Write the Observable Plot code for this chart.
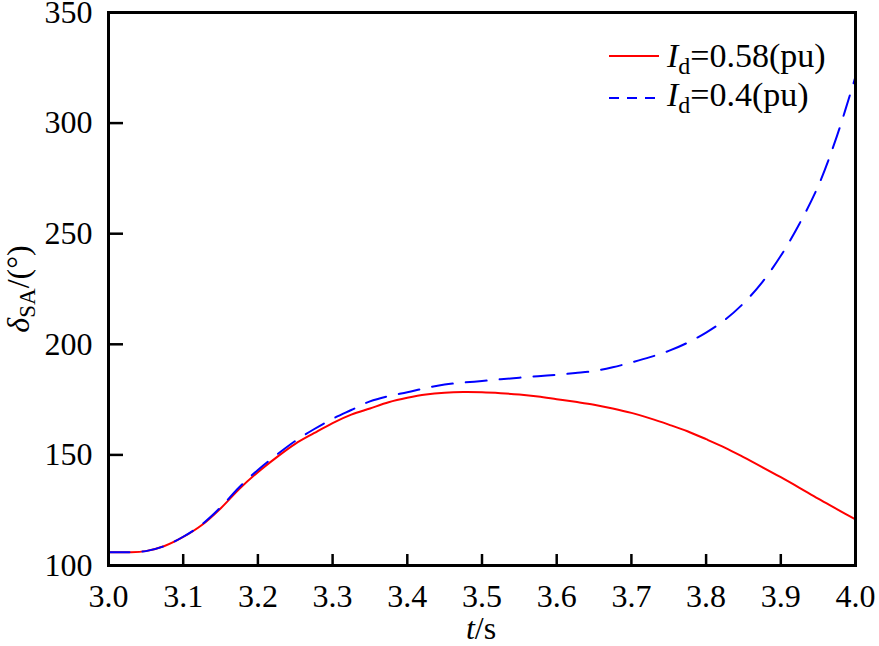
<!DOCTYPE html>
<html>
<head>
<meta charset="utf-8">
<script src="https://cdn.jsdelivr.net/npm/d3@7"></script>
<script src="https://cdn.jsdelivr.net/npm/@observablehq/plot@0.6"></script>
<style>
  html, body { margin: 0; padding: 0; background: #fff; }
  #chart { width: 879px; height: 646px; }
</style>
</head>
<body>
<div id="chart"></div>
<script>
// time (s)
const t = [3.000, 3.025, 3.050, 3.075, 3.100, 3.125, 3.150, 3.175, 3.200, 3.225,
           3.250, 3.275, 3.300, 3.325, 3.350, 3.375, 3.400, 3.425, 3.450, 3.475,
           3.500, 3.525, 3.550, 3.575, 3.600, 3.625, 3.650, 3.675, 3.700, 3.725,
           3.750, 3.775, 3.800, 3.825, 3.850, 3.875, 3.900, 3.925, 3.950, 3.975, 4.000];
// Id = 0.58 pu
const deltaId058 = [106.0, 106.0, 106.5, 108.8, 112.9, 118.3, 125.8, 134.6, 142.2, 148.9,
                    155.0, 159.8, 164.4, 168.2, 171.0, 173.8, 175.8, 177.3, 178.1, 178.4,
                    178.3, 177.9, 177.3, 176.4, 175.2, 174.0, 172.7, 171.0, 169.0, 166.5,
                    163.7, 160.7, 157.1, 153.3, 149.0, 144.5, 139.9, 135.1, 130.2, 125.5, 120.8];
// Id = 0.4 pu
const deltaId04 = [106.0, 106.0, 106.5, 108.8, 113.0, 118.6, 126.3, 135.4, 143.2, 150.0,
                   156.3, 161.6, 166.3, 170.3, 174.2, 176.6, 178.3, 180.2, 181.8, 182.7,
                   183.4, 184.2, 184.9, 185.6, 186.2, 187.0, 187.9, 189.6, 191.8, 194.2,
                   197.0, 200.7, 205.3, 211.0, 218.5, 228.0, 240.0, 254.5, 271.5, 294.0, 321.0];
const xTicks = [3.0, 3.1, 3.2, 3.3, 3.4, 3.5, 3.6, 3.7, 3.8, 3.9, 4.0];
const xTickLabels = ["3.0", "3.1", "3.2", "3.3", "3.4", "3.5", "3.6", "3.7", "3.8", "3.9", "4.0"];
const yTicks = [100, 150, 200, 250, 300, 350];
const yTickLabels = ["100", "150", "200", "250", "300", "350"];

const seriesRed = t.map((x, i) => ({t: x, v: deltaId058[i]}));
const seriesBlue = t.map((x, i) => ({t: x, v: deltaId04[i]}));

const FONT = "'Liberation Serif', 'Times New Roman', serif";
const W = 879, H = 646, ML = 108, MR = 24, MT = 12, MB = 81;

const chart = Plot.plot({
  width: W,
  height: H,
  marginLeft: ML,
  marginRight: MR,
  marginTop: MT,
  marginBottom: MB,
  style: {fontFamily: FONT, fontSize: "32px", background: "#fff", color: "#000"},
  x: {domain: [3, 4]},
  y: {domain: [100, 350]},
  marks: [
    // inward ticks: a top-anchored axis shifted down onto the bottom edge, and a
    // right-anchored axis shifted onto the left edge
    Plot.axisX({anchor: "top", ticks: xTicks, tickSize: 12, strokeWidth: 2.5, dy: H - MT - MB, tickFormat: () => "", label: null}),
    Plot.axisY({anchor: "right", ticks: yTicks, tickSize: 14, strokeWidth: 2.5, dx: -(W - ML - MR), tickFormat: () => "", label: null}),
    Plot.axisX({anchor: "bottom", ticks: xTicks, tickSize: 0, tickPadding: 19, tickFormat: (d, i) => xTickLabels[i], label: null}),
    Plot.axisY({anchor: "left", ticks: yTicks, tickSize: 0, tickPadding: 16, tickFormat: (d, i) => yTickLabels[i], label: null}),
    Plot.line(seriesRed, {x: "t", y: "v", stroke: "#ff0000", strokeWidth: 2, curve: "catmull-rom"}),
    Plot.line(seriesBlue, {x: "t", y: "v", stroke: "#0000ff", strokeWidth: 2, strokeDasharray: "21,13", curve: "catmull-rom"}),
    Plot.frame({stroke: "#000", strokeWidth: 3})
  ]
});

document.getElementById("chart").appendChild(chart);

const svg = d3.select(chart);

// x label: t/s
const xl = svg.append("text")
  .attr("x", 481).attr("y", 639)
  .attr("text-anchor", "middle")
  .attr("font-family", FONT).attr("font-size", 32).attr("fill", "#000");
xl.append("tspan").attr("font-style", "italic").text("t");
xl.append("tspan").text("/s");

// y label: δSA/(°)
const yl = svg.append("text")
  .attr("transform", "translate(29,289) rotate(-90)")
  .attr("text-anchor", "middle")
  .attr("font-family", FONT).attr("font-size", 32).attr("fill", "#000");
yl.append("tspan").attr("font-style", "italic").text("δ");
yl.append("tspan").attr("font-size", 23).attr("dy", 6).text("SA");
yl.append("tspan").attr("dy", -6).text("/(°)");

// legend
const legend = [
  {label: "0.58(pu)", color: "#ff0000", dash: null, y: 56, base: 67},
  {label: "0.4(pu)", color: "#0000ff", dash: "10,8", y: 98, base: 106}
];
legend.forEach(L => {
  const ln = svg.append("line")
    .attr("x1", 609).attr("x2", 659).attr("y1", L.y).attr("y2", L.y)
    .attr("stroke", L.color).attr("stroke-width", 2);
  if (L.dash) ln.attr("stroke-dasharray", L.dash);
  const tx = svg.append("text")
    .attr("x", 667).attr("y", L.base)
    .attr("text-anchor", "start")
    .attr("font-family", FONT).attr("font-size", 34).attr("fill", "#000");
  tx.append("tspan").attr("font-style", "italic").text("I");
  tx.append("tspan").attr("font-size", 24).attr("dy", 7).text("d");
  tx.append("tspan").attr("dy", -7).text("=" + L.label);
});
</script>
</body>
</html>
